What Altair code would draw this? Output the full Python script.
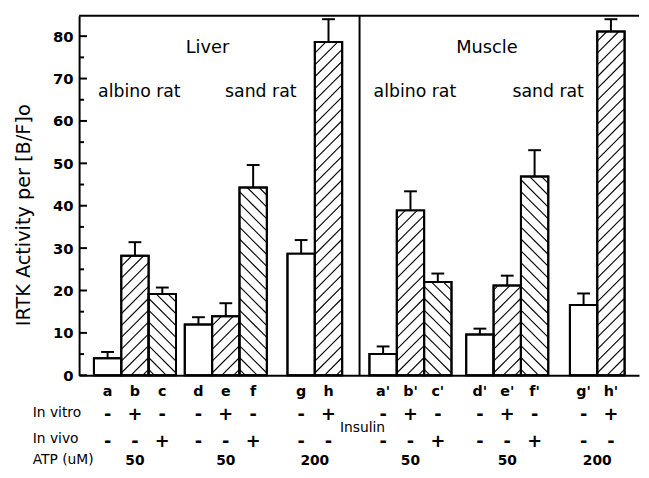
import altair as alt
import pandas as pd
import numpy as np

# ---------------- data ----------------
labels = ["a", "b", "c", "d", "e", "f", "g", "h",
          "a'", "b'", "c'", "d'", "e'", "f'", "g'", "h'"]
activity = [4.0, 28.2, 19.2, 12.0, 13.9, 44.3, 28.7, 78.6,
            5.0, 38.9, 22.0, 9.6, 21.2, 46.9, 16.6, 81.1]
sem = [1.5, 3.2, 1.5, 1.7, 3.1, 5.3, 3.2, 5.4,
       1.8, 4.5, 2.0, 1.4, 2.3, 6.2, 2.7, 2.9]
in_vitro = ["-", "+", "-", "-", "+", "-", "-", "+",
            "-", "+", "-", "-", "+", "-", "-", "+"]
in_vivo = ["-", "-", "+", "-", "-", "+", "-", "-",
           "-", "-", "+", "-", "-", "+", "-", "-"]
group = [0, 0, 0, 1, 1, 1, 2, 2, 3, 3, 3, 4, 4, 4, 5, 5]
atp = ["50", "50", "200", "50", "50", "200"]
y_ticks = [0, 10, 20, 30, 40, 50, 60, 70, 80]
minor_ticks = [5, 15, 25, 35, 45, 55, 65, 75]
panels = ["Liver", "Muscle"]
strains = ["albino rat", "sand rat", "albino rat", "sand rat"]
row_labels = ["In vitro", "In vivo", "ATP (uM)"]
treatment_label = "Insulin"
y_title = "IRTK Activity per [B/F]o"

# ---------------- layout ----------------
FONT = "DejaVu Sans"
W, H = 567, 364
YMAX = 84.8
BW = 27.7
GROUP_START = [15, 107, 211, 294, 392, 497]
DIVIDER = 284
PANEL_X = [130, 413]
STRAIN_X = [61, 184, 340, 475]
HATCH_SPACING = 12.0
HATCH_SLOPE = 1.0

# bar geometry
x0 = []
pos_in_group = {}
for g in group:
    k = pos_in_group.get(g, 0)
    x0.append(GROUP_START[g] + k * BW)
    pos_in_group[g] = k + 1

bars = pd.DataFrame({
    "label": labels, "v": activity, "sem": sem,
    "vitro": in_vitro, "vivo": in_vivo, "group": group,
})
bars["x0"] = x0
bars["x1"] = bars["x0"] + BW
bars["cx"] = bars["x0"] + BW / 2
bars["zero"] = 0.0
bars["top"] = bars["v"] + bars["sem"]
bars["cap_l"] = bars["cx"] - 6.5
bars["cap_r"] = bars["cx"] + 6.5

# hatch segments derived from bar heights
ppu = H / YMAX
segs = []
for _, r in bars.iterrows():
    if r["vitro"] == "+":
        kind = "/"
    elif r["vivo"] == "+":
        kind = "\\"
    else:
        continue
    hpx = r["v"] * ppu
    k = HATCH_SLOPE
    if kind == "/":
        c = -BW * k + HATCH_SPACING / 2
        while c < hpx:
            us = max(0.0, -c / k)
            ue = min(BW, (hpx - c) / k)
            if ue > us:
                segs.append({"xa": r["x0"] + us, "ya": (c + k * us) / ppu,
                             "xb": r["x0"] + ue, "yb": (c + k * ue) / ppu})
            c += HATCH_SPACING
    else:
        c = HATCH_SPACING / 2
        while c < hpx + BW * k:
            us = max(0.0, (c - hpx) / k)
            ue = min(BW, c / k)
            if ue > us:
                segs.append({"xa": r["x0"] + us, "ya": (c - k * us) / ppu,
                             "xb": r["x0"] + ue, "yb": (c - k * ue) / ppu})
            c += HATCH_SPACING
hatch = pd.DataFrame(segs)

xs = alt.Scale(domain=[0, W], nice=False, zero=False)
ys = alt.Scale(domain=[0, YMAX], nice=False, zero=False)

X_AXIS = alt.Axis(labels=False, ticks=False, title=None, grid=False,
                  domainColor="black", domainWidth=2)
Y_AXIS = alt.Axis(values=y_ticks, labelFont=FONT, labelFontSize=15,
                  labelFontWeight="bold", labelColor="black", ticks=False,
                  labelPadding=6, domainColor="black", domainWidth=2,
                  grid=False, title=None)

base_bars = alt.Chart(bars)

rects = base_bars.mark_rect(fill="white", stroke="black", strokeWidth=2).encode(
    x=alt.X("x0:Q", scale=xs, axis=X_AXIS),
    x2="x1:Q",
    y=alt.Y("v:Q", scale=ys, axis=Y_AXIS),
    y2="zero:Q",
)

hatch_lines = alt.Chart(hatch).mark_rule(color="black", strokeWidth=1.1).encode(
    x=alt.X("xa:Q", scale=xs), x2="xb:Q",
    y=alt.Y("ya:Q", scale=ys), y2="yb:Q",
)

outline = base_bars.mark_rect(fill=None, stroke="black", strokeWidth=2).encode(
    x=alt.X("x0:Q", scale=xs), x2="x1:Q",
    y=alt.Y("v:Q", scale=ys), y2="zero:Q",
)

err_v = base_bars.mark_rule(color="black", strokeWidth=2).encode(
    x=alt.X("cx:Q", scale=xs), y=alt.Y("v:Q", scale=ys), y2="top:Q",
)
err_cap = base_bars.mark_rule(color="black", strokeWidth=2).encode(
    x=alt.X("cap_l:Q", scale=xs), x2="cap_r:Q", y=alt.Y("top:Q", scale=ys),
)

# frame: top line and panel divider
frame_df = pd.DataFrame({"xa": [0.0], "xb": [float(W)], "y": [YMAX]})
top_line = alt.Chart(frame_df).mark_rule(color="black", strokeWidth=2).encode(
    x=alt.X("xa:Q", scale=xs), x2="xb:Q", y=alt.Y("y:Q", scale=ys),
)
div_df = pd.DataFrame({"x": [float(DIVIDER)], "ya": [0.0], "yb": [YMAX]})
divider = alt.Chart(div_df).mark_rule(color="black", strokeWidth=2).encode(
    x=alt.X("x:Q", scale=xs), y=alt.Y("ya:Q", scale=ys), y2="yb:Q",
)

# inward ticks
tick_df = pd.DataFrame({
    "y": y_ticks + minor_ticks,
    "len": [8] * len(y_ticks) + [5] * len(minor_ticks),
})
tick_df["zero"] = 0
ticks = alt.Chart(tick_df).mark_rule(color="black", strokeWidth=2).encode(
    x=alt.X("zero:Q", scale=xs), x2="len:Q", y=alt.Y("y:Q", scale=ys),
)


def texts(df, size, weight, ypix, align="center", baseline="alphabetic"):
    return alt.Chart(df).mark_text(
        font=FONT, fontSize=size, fontWeight=weight, align=align,
        baseline=baseline, color="black",
    ).encode(x=alt.X("x:Q", scale=xs), y=alt.value(ypix), text="t:N")


panel_txt = texts(pd.DataFrame({"t": panels, "x": PANEL_X}), 18, "normal", 38)
strain_txt = texts(pd.DataFrame({"t": strains, "x": STRAIN_X}), 17.5, "normal", 82)

letter_txt = texts(pd.DataFrame({"t": labels, "x": bars["cx"]}), 14.5, "bold", 385)
vitro_txt = texts(pd.DataFrame({"t": in_vitro, "x": bars["cx"]}), 18, "bold", 409)
vivo_txt = texts(pd.DataFrame({"t": in_vivo, "x": bars["cx"]}), 18, "bold", 437)

grp_center = bars.groupby("group").apply(
    lambda d: (d["x0"].min() + d["x1"].max()) / 2, include_groups=False
).tolist()
atp_txt = texts(pd.DataFrame({"t": atp, "x": grp_center}), 14, "bold", 455)

insulin_txt = texts(pd.DataFrame({"t": [treatment_label], "x": [DIVIDER + 3]}),
                    14, "normal", 421)

row_df = pd.DataFrame({"t": row_labels, "y": [406, 433, 454]})
row_txt = alt.Chart(row_df).mark_text(
    font=FONT, fontSize=14, align="left", baseline="alphabetic", color="black"
).encode(x=alt.value(-47), y=alt.Y("y:Q", scale=None), text="t:N")

title_txt = alt.Chart(pd.DataFrame({"t": [y_title]})).mark_text(
    font=FONT, fontSize=19.5, angle=270, align="center", baseline="middle",
    color="black",
).encode(x=alt.value(-56), y=alt.value(202), text="t:N")

chart = alt.layer(
    rects, hatch_lines, outline, err_v, err_cap, top_line, divider, ticks,
    panel_txt, strain_txt, letter_txt, vitro_txt, vivo_txt, atp_txt,
    insulin_txt, row_txt, title_txt,
).properties(
    width=W, height=H, autosize="none",
    padding={"left": 72, "top": 5, "right": 2, "bottom": 93},
).configure_view(stroke=None)

chart.save("out.html", embed_options={"renderer": "svg", "actions": False})
